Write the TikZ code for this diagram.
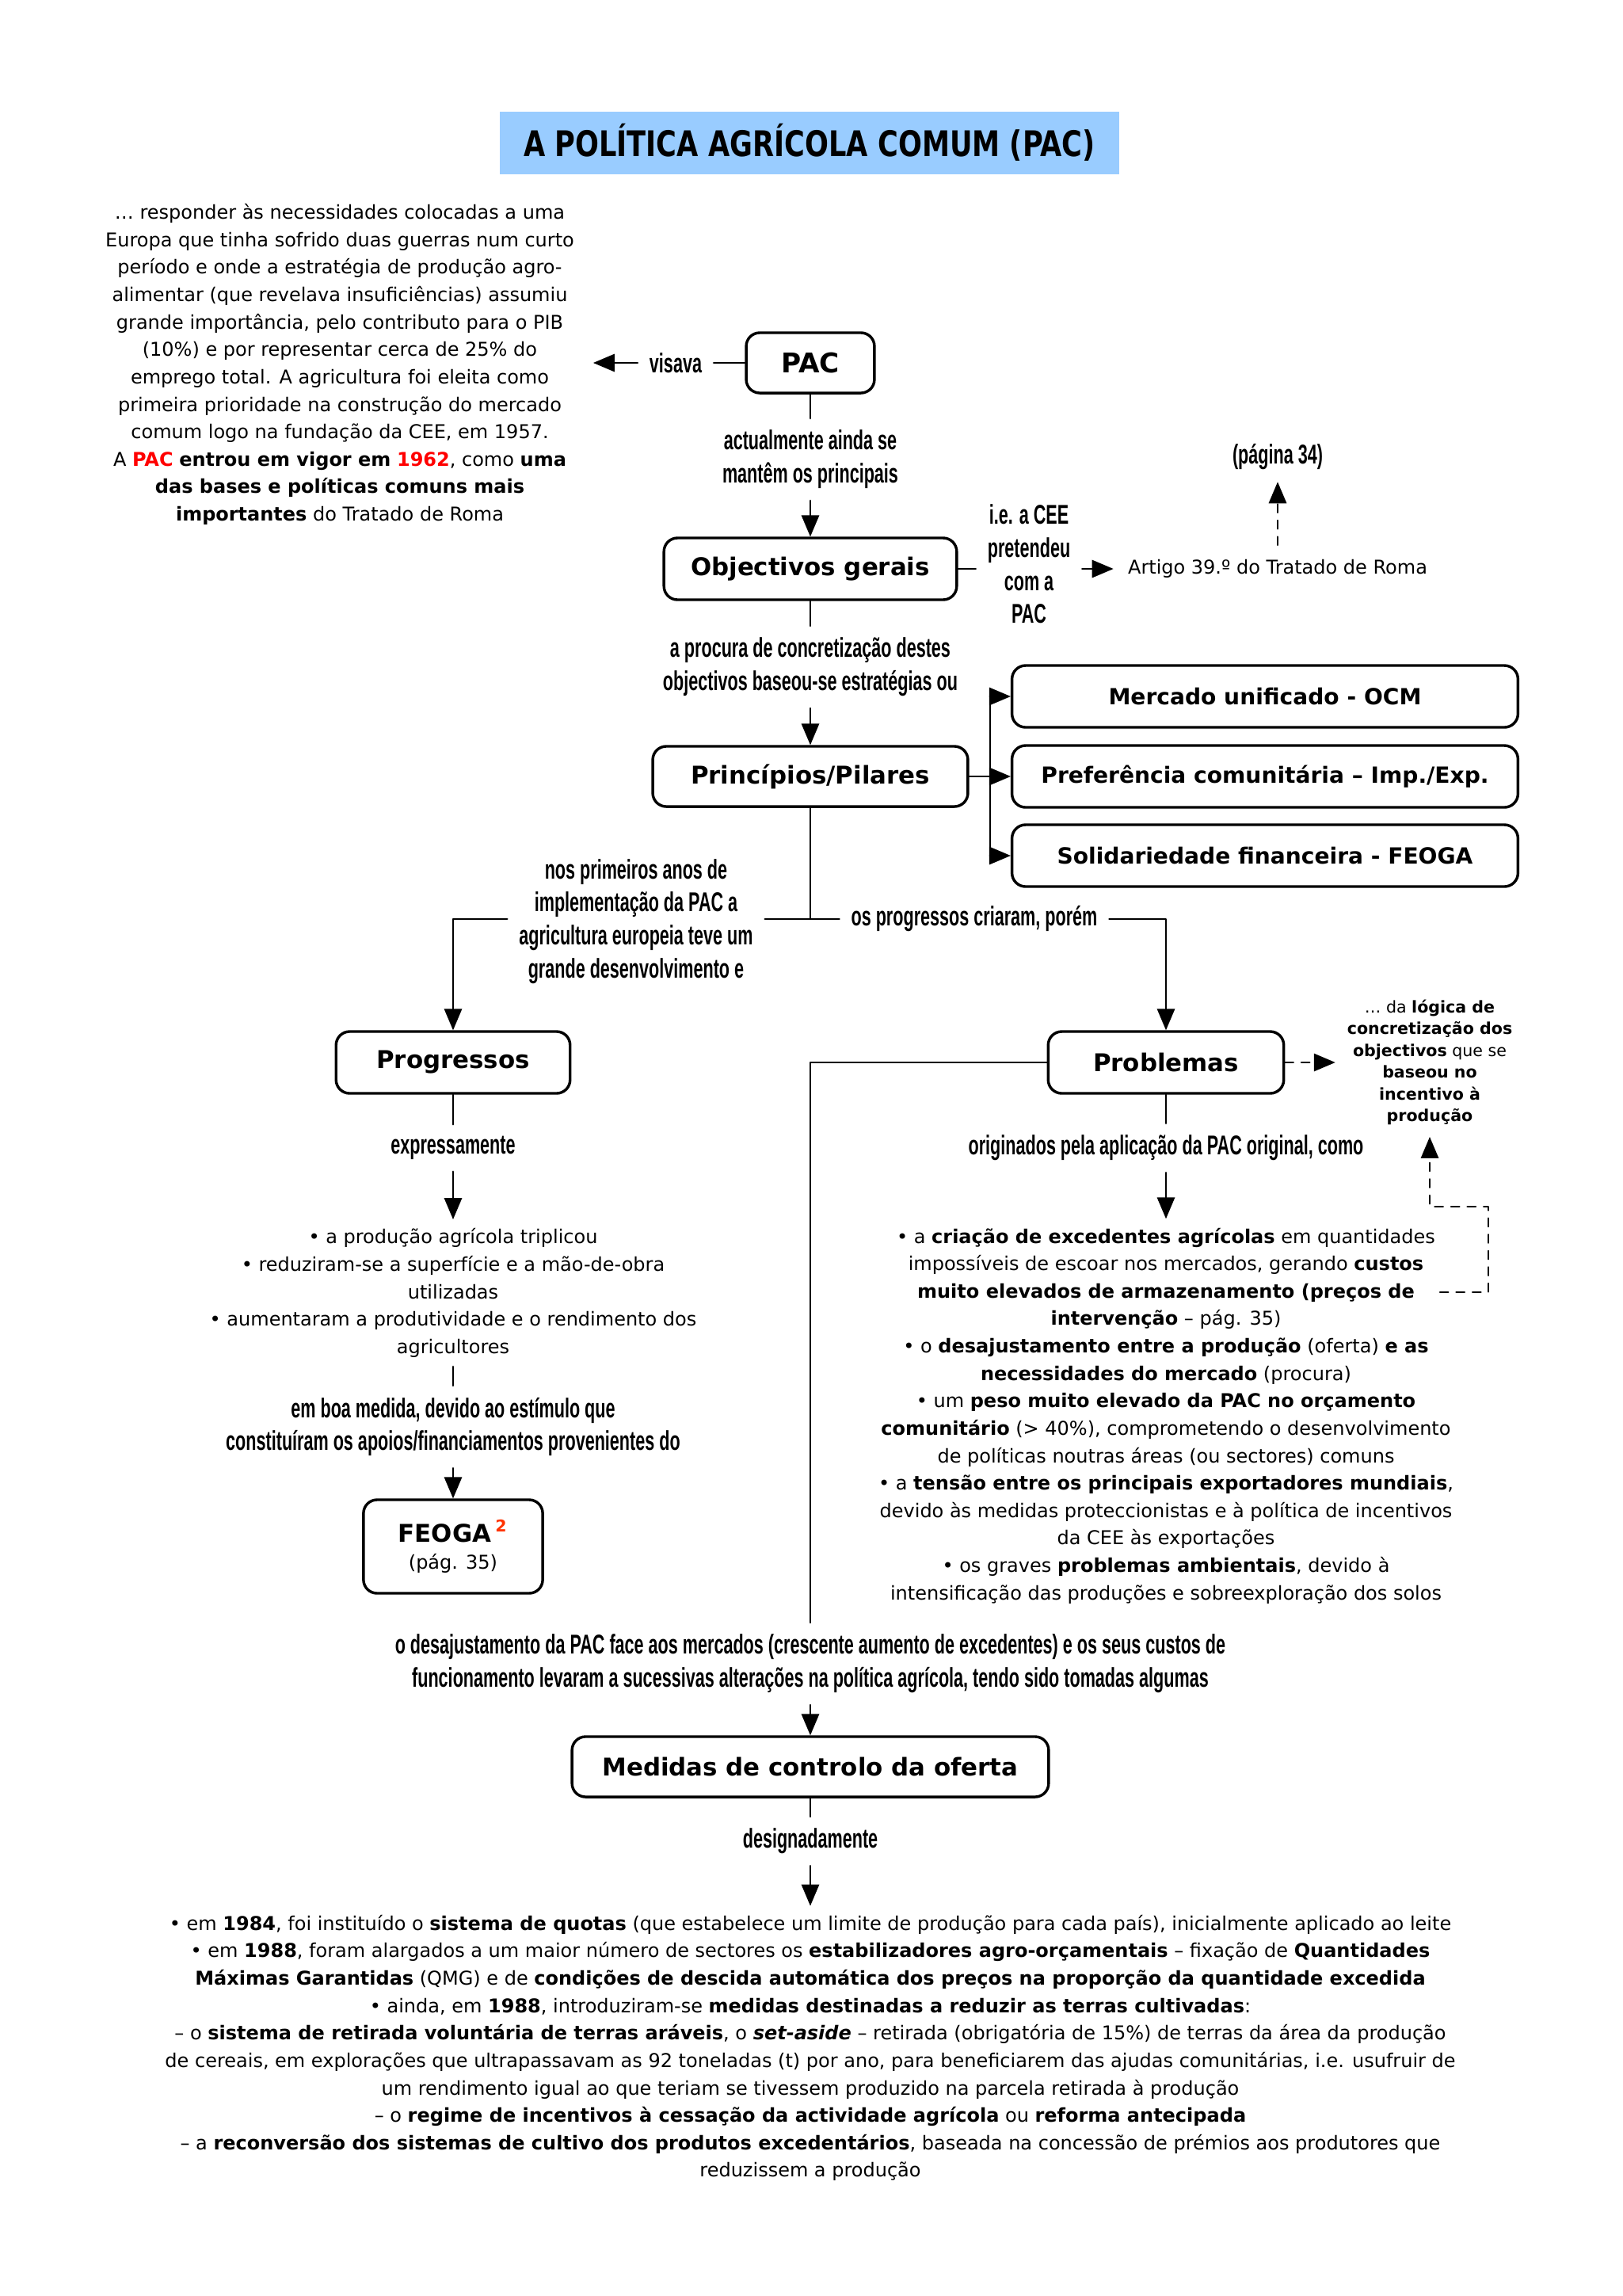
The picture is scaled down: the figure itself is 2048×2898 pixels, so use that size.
\documentclass[tikz,border=0pt]{standalone}
\usepackage{fontspec}
\setmainfont{DejaVu Sans}
\newfontfamily\handfont{Liberation Sans}[FakeStretch=0.63]
\newfontfamily\titlefont{DejaVu Sans}[FakeStretch=0.79]
\usetikzlibrary{arrows}
\definecolor{zzccff}{rgb}{0.6,0.8,1}
\definecolor{ffqqqq}{rgb}{1,0,0}
\definecolor{ffttqq}{rgb}{1,0.2,0}
\tikzset{
  box/.style={draw,line width=1pt,rounded corners=5pt,align=center,inner sep=0pt,
    font=\fontsize{9}{11}\selectfont\bfseries},
  pilar/.style={box,minimum width=6.55cm,minimum height=0.80cm,font=\fontsize{8.2}{10}\selectfont\bfseries},
  lbl/.style={align=center,inner sep=4pt,font=\handfont\fontsize{10}{12.2}\selectfont\bfseries},
  txt/.style={align=center,inner sep=3pt,font=\fontsize{7}{10.1}\selectfont},
}

\begin{document}
\begin{tikzpicture}[line cap=round,line join=round,>=triangle 45,line width=0.8pt,
			x=0.01025cm,y=-0.01025cm]
			\useasboundingbox (0,0) rectangle (2048,2898);
			% titulo
			\node[fill=zzccff,minimum width=8.02cm,minimum height=0.81cm,inner sep=0pt,
			  font=\titlefont\fontsize{13}{15}\selectfont\bfseries] (titulo) at (1022,180) {A POLÍTICA AGRÍCOLA COMUM (PAC)};
			% contexto
			\node[txt] (contexto) at (429,460) {… responder às necessidades colocadas a uma\\
			  Europa que tinha sofrido duas guerras num curto\\
			  período e onde a estratégia de produção agro-\\
			  alimentar (que revelava insuficiências) assumiu\\
			  grande importância, pelo contributo para o PIB\\
			  (10\%) e por representar cerca de 25\% do\\
			  emprego total. A agricultura foi eleita como\\
			  primeira prioridade na construção do mercado\\
			  comum logo na fundação da CEE, em 1957.\\
			  A \textcolor{ffqqqq}{\textbf{PAC}} \textbf{entrou em vigor em} \textcolor{ffqqqq}{\textbf{1962}}, como \textbf{uma}\\
			  \textbf{das bases e políticas comuns mais}\\
			  \textbf{importantes} do Tratado de Roma};
			\node[box,minimum width=1.66cm,minimum height=0.78cm,font=\fontsize{10}{12}\selectfont\bfseries] (pac) at (1023,458) {PAC};
			\node[lbl] (visava) at (853,458) {visava};
			\coordinate (contextofim) at (749,458);
			\draw (pac) -- (visava);
			\draw[->] (visava) -- (contextofim);
			% objectivos
			\node[lbl] (mantem) at (1023,580) {actualmente ainda se\\mantêm os principais};
			\node[box,minimum width=3.79cm,minimum height=0.80cm] (objectivos) at (1023,718) {Objectivos gerais};
			\draw (pac) -- (mantem);
			\draw[->] (mantem) -- (objectivos);
			\node[lbl] (pretendeu) at (1299,712) {i.e. a CEE\\pretendeu\\com a\\PAC};
			\node[txt,inner sep=5pt] (artigo) at (1613,718) {Artigo 39.º do Tratado de Roma};
			\node[lbl] (pagina) at (1613,577) {(página 34)};
			\draw (objectivos) -- (objectivos -| pretendeu.west);
			\draw[->] (pretendeu.east |- artigo) -- (artigo);
			\draw[dashed,->] (artigo.north -| pagina) -- (pagina);
			% principios
			\node[lbl] (procura) at (1023,842) {a procura de concretização destes\\objectivos baseou-se estratégias ou};
			\node[box,minimum width=4.08cm,minimum height=0.78cm] (principios) at (1023,980) {Princípios/Pilares};
			\draw (objectivos) -- (procura);
			\draw[->] (procura) -- (principios);
			\node[pilar] (ocm) at (1597,879) {Mercado unificado - OCM};
			\node[pilar] (preferencia) at (1597,980) {Preferência comunitária – Imp./Exp.};
			\node[pilar] (solidariedade) at (1597,1080) {Solidariedade financeira - FEOGA};
			\coordinate (pilares) at (1250,980);
			\draw[->] (principios) -- (preferencia);
			\draw (pilares |- ocm) -- (pilares |- solidariedade);
			\draw[->] (pilares |- ocm) -- (ocm);
			\draw[->] (pilares |- solidariedade) -- (solidariedade);
			% progressos e problemas
			\coordinate (divisao) at (1023,1160);
			\node[lbl] (primeiros) at (803,1163) {nos primeiros anos de\\implementação da PAC a\\agricultura europeia teve um\\grande desenvolvimento e};
			\node[lbl] (criaram) at (1230,1160) {os progressos criaram, porém};
			\node[box,minimum width=3.03cm,minimum height=0.80cm] (progressos) at (572,1341) {Progressos};
			\node[box,minimum width=3.05cm,minimum height=0.80cm] (problemas) at (1472,1341) {Problemas};
			\draw (principios) -- (divisao);
			\draw (divisao) -- (divisao -| primeiros.east);
			\draw[->] (divisao -| primeiros.west) -| (progressos);
			\draw (divisao) -- (criaram);
			\draw[->] (criaram) -| (problemas);
			\node[txt,inner sep=4pt,font=\fontsize{6}{8}\selectfont] (logica) at (1805,1341) {… da \textbf{lógica de}\\
			  \textbf{concretização dos}\\
			  \textbf{objectivos} que se\\
			  \textbf{baseou no}\\
			  \textbf{incentivo à}\\
			  \textbf{produção}};
			\draw[dashed,->] (problemas) -- (problemas -| logica.west);
			% lado esquerdo
			\node[lbl] (expressamente) at (572,1449) {expressamente};
			\node[txt] (resultados) at (572,1632) {• a produção agrícola triplicou\\
			  • reduziram-se a superfície e a mão-de-obra\\
			  utilizadas\\
			  • aumentaram a produtividade e o rendimento dos\\
			  agricultores};
			\node[lbl] (estimulo) at (572,1801) {em boa medida, devido ao estímulo que\\constituíram os apoios/financiamentos provenientes do};
			\node[box,minimum width=2.32cm,minimum height=1.21cm] (feoga) at (572,1952) {FEOGA\,\textsuperscript{\color{ffttqq}2}\\[-1pt]
			  {\mdseries\fontsize{7}{9}\selectfont(pág. 35)}};
			\draw (progressos) -- (expressamente);
			\draw[->] (expressamente) -- (resultados);
			\draw (resultados) -- (estimulo);
			\draw[->] (estimulo) -- (feoga);
			% lado direito
			\node[lbl] (originados) at (1472,1449) {originados pela aplicação da PAC original, como};
			\node[txt] (consequencias) at (1472,1787) {• a \textbf{criação de excedentes agrícolas} em quantidades\\
			  impossíveis de escoar nos mercados, gerando \textbf{custos}\\
			  \textbf{muito elevados de armazenamento (preços de}\\
			  \textbf{intervenção} – pág. 35)\\
			  • o \textbf{desajustamento entre a produção} (oferta) \textbf{e as}\\
			  \textbf{necessidades do mercado} (procura)\\
			  • um \textbf{peso muito elevado da PAC no orçamento}\\
			  \textbf{comunitário} (> 40\%), comprometendo o desenvolvimento\\
			  de políticas noutras áreas (ou sectores) comuns\\
			  • a \textbf{tensão entre os principais exportadores mundiais},\\
			  devido às medidas proteccionistas e à política de incentivos\\
			  da CEE às exportações\\
			  • os graves \textbf{problemas ambientais}, devido à\\
			  intensificação das produções e sobreexploração dos solos};
			\draw (problemas) -- (originados);
			\draw[->] (originados) -- (consequencias);
			\coordinate (custos) at (1818,1631);
			\coordinate (retorno) at (1879,1523);
			\draw[dashed,->] (custos) -| (retorno) -| (logica.south);
			% medidas
			\node[lbl] (desajuste) at (1023,2100) {o desajustamento da PAC face aos mercados (crescente aumento de excedentes) e os seus custos de\\
			  funcionamento levaram a sucessivas alterações na política agrícola, tendo sido tomadas algumas};
			\node[box,minimum width=6.17cm,minimum height=0.78cm] (medidas) at (1023,2230) {Medidas de controlo da oferta};
			\draw (problemas) -| (desajuste);
			\draw[->] (desajuste) -- (medidas);
			\node[lbl] (designadamente) at (1023,2324) {designadamente};
			\node[txt] (quotas) at (1023,2585) {• em \textbf{1984}, foi instituído o \textbf{sistema de quotas} (que estabelece um limite de produção para cada país), inicialmente aplicado ao leite\\
			  • em \textbf{1988}, foram alargados a um maior número de sectores os \textbf{estabilizadores agro-orçamentais} – fixação de \textbf{Quantidades}\\
			  \textbf{Máximas Garantidas} (QMG) e de \textbf{condições de descida automática dos preços na proporção da quantidade excedida}\\
			  • ainda, em \textbf{1988}, introduziram-se \textbf{medidas destinadas a reduzir as terras cultivadas}:\\
			  – o \textbf{sistema de retirada voluntária de terras aráveis}, o \textbf{\textit{set-aside}} – retirada (obrigatória de 15\%) de terras da área da produção\\
			  de cereais, em explorações que ultrapassavam as 92 toneladas (t) por ano, para beneficiarem das ajudas comunitárias, i.e. usufruir de\\
			  um rendimento igual ao que teriam se tivessem produzido na parcela retirada à produção\\
			  – o \textbf{regime de incentivos à cessação da actividade agrícola} ou \textbf{reforma antecipada}\\
			  – a \textbf{reconversão dos sistemas de cultivo dos produtos excedentários}, baseada na concessão de prémios aos produtores que\\
			  reduzissem a produção};
			\draw (medidas) -- (designadamente);
			\draw[->] (designadamente) -- (quotas);
			\end{tikzpicture}
\end{document}
